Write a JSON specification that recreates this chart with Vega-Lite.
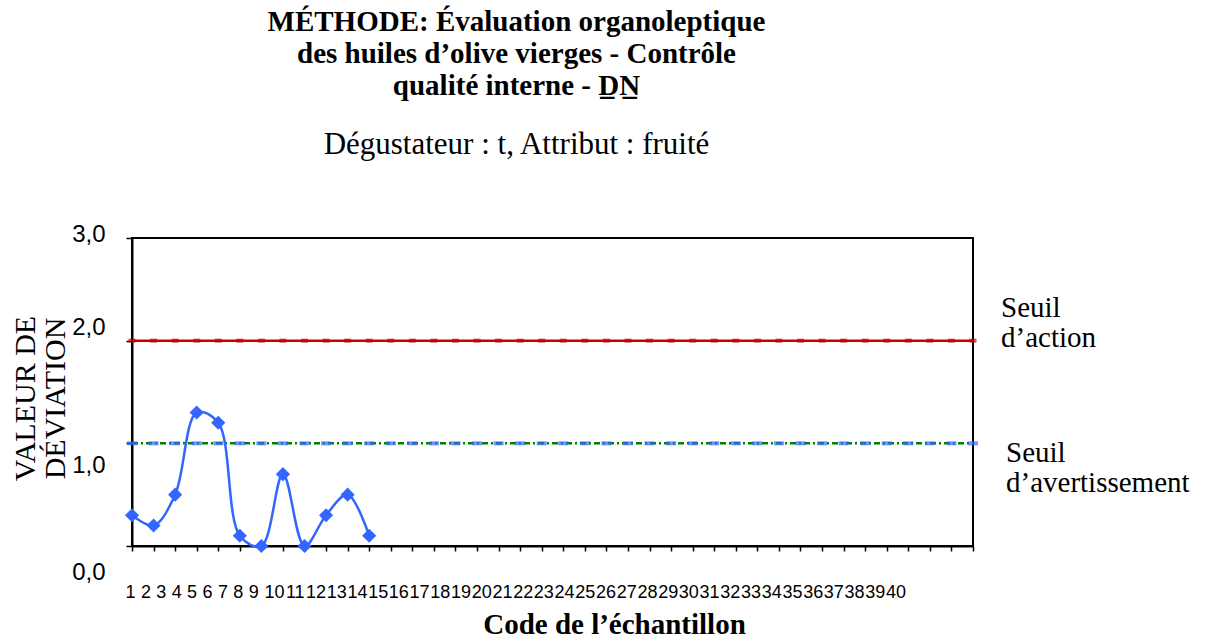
{
  "$schema": "https://vega.github.io/schema/vega-lite/v6.json",
  "width": 841,
  "height": 308,
  "autosize": {"type": "none"},
  "padding": {"left": 132, "top": 238, "right": 232, "bottom": 93},
  "background": "white",
  "title": {
    "text": ["MÉTHODE: Évaluation organoleptique", "des huiles d’olive vierges - Contrôle", "qualité interne - D̲N̲"],
    "subtitle": "Dégustateur : t, Attribut : fruité",
    "font": "Liberation Serif",
    "fontSize": 29,
    "fontWeight": "bold",
    "lineHeight": 32,
    "color": "black",
    "subtitleFont": "Liberation Serif",
    "subtitleFontSize": 31,
    "subtitleFontWeight": "normal",
    "subtitleColor": "black",
    "subtitlePadding": 29,
    "anchor": "middle",
    "frame": "group",
    "dx": -36,
    "offset": 62
  },
  "datasets": {
    "main": [
      {"code": 1, "dev": 0.3}, {"code": 2, "dev": 0.2}, {"code": 3, "dev": 0.5},
      {"code": 4, "dev": 1.3}, {"code": 5, "dev": 1.2}, {"code": 6, "dev": 0.1},
      {"code": 7, "dev": 0.0}, {"code": 8, "dev": 0.7}, {"code": 9, "dev": 0.0},
      {"code": 10, "dev": 0.3}, {"code": 11, "dev": 0.5}, {"code": 12, "dev": 0.1}
    ],
    "action": [
      {"code": 1, "v": 2}, {"code": 2, "v": 2}, {"code": 3, "v": 2}, {"code": 4, "v": 2}, {"code": 5, "v": 2},
      {"code": 6, "v": 2}, {"code": 7, "v": 2}, {"code": 8, "v": 2}, {"code": 9, "v": 2}, {"code": 10, "v": 2},
      {"code": 11, "v": 2}, {"code": 12, "v": 2}, {"code": 13, "v": 2}, {"code": 14, "v": 2}, {"code": 15, "v": 2},
      {"code": 16, "v": 2}, {"code": 17, "v": 2}, {"code": 18, "v": 2}, {"code": 19, "v": 2}, {"code": 20, "v": 2},
      {"code": 21, "v": 2}, {"code": 22, "v": 2}, {"code": 23, "v": 2}, {"code": 24, "v": 2}, {"code": 25, "v": 2},
      {"code": 26, "v": 2}, {"code": 27, "v": 2}, {"code": 28, "v": 2}, {"code": 29, "v": 2}, {"code": 30, "v": 2},
      {"code": 31, "v": 2}, {"code": 32, "v": 2}, {"code": 33, "v": 2}, {"code": 34, "v": 2}, {"code": 35, "v": 2},
      {"code": 36, "v": 2}, {"code": 37, "v": 2}, {"code": 38, "v": 2}, {"code": 39, "v": 2}, {"code": 40, "v": 2}
    ],
    "avert": [
      {"code": 1, "v": 1}, {"code": 2, "v": 1}, {"code": 3, "v": 1}, {"code": 4, "v": 1}, {"code": 5, "v": 1},
      {"code": 6, "v": 1}, {"code": 7, "v": 1}, {"code": 8, "v": 1}, {"code": 9, "v": 1}, {"code": 10, "v": 1},
      {"code": 11, "v": 1}, {"code": 12, "v": 1}, {"code": 13, "v": 1}, {"code": 14, "v": 1}, {"code": 15, "v": 1},
      {"code": 16, "v": 1}, {"code": 17, "v": 1}, {"code": 18, "v": 1}, {"code": 19, "v": 1}, {"code": 20, "v": 1},
      {"code": 21, "v": 1}, {"code": 22, "v": 1}, {"code": 23, "v": 1}, {"code": 24, "v": 1}, {"code": 25, "v": 1},
      {"code": 26, "v": 1}, {"code": 27, "v": 1}, {"code": 28, "v": 1}, {"code": 29, "v": 1}, {"code": 30, "v": 1},
      {"code": 31, "v": 1}, {"code": 32, "v": 1}, {"code": 33, "v": 1}, {"code": 34, "v": 1}, {"code": 35, "v": 1},
      {"code": 36, "v": 1}, {"code": 37, "v": 1}, {"code": 38, "v": 1}, {"code": 39, "v": 1}, {"code": 40, "v": 1}
    ],
    "labels": [
      {"seuil": "action", "code": 40, "v": 2, "lab": ["Seuil", "d’action"]},
      {"seuil": "avert", "code": 40, "v": 1, "lab": ["Seuil", "d’avertissement"]}
    ]
  },
  "encoding": {
    "x": {
      "field": "code", "type": "quantitative",
      "scale": {"domain": [1, 40], "nice": false, "zero": false},
      "axis": {
        "title": "Code de l’échantillon",
        "titleFont": "Liberation Serif", "titleFontSize": 29, "titleFontWeight": "bold", "titleColor": "black",
        "titleX": 482, "titleY": 87, "titleBaseline": "alphabetic", "titleAlign": "center",
        "values": [1,2,3,4,5,6,7,8,9,10,11,12,13,14,15,16,17,18,19,20,21,22,23,24,25,26,27,28,29,30,31,32,33,34,35,36,37,38,39,40],
        "format": "d",
        "labelFont": "Liberation Sans", "labelFontSize": 18, "labelColor": "black",
        "labelAngle": 0, "labelOverlap": false, "labelFlush": false, "labelPadding": 32,
        "labelOffset": {"expr": "datum.value <= 9 ? -2 - (datum.value - 1) * 6.16 : -52 - 0.85 * (datum.value - 10)"},
        "tickSize": 5, "tickColor": "black", "tickWidth": 1.5,
        "domainColor": "black", "domainWidth": 2, "grid": false
      }
    },
    "y": {
      "field": "v", "type": "quantitative",
      "scale": {"domain": [0, 3], "nice": false},
      "axis": {
        "title": ["VALEUR DE", "DÉVIATION"],
        "titleFont": "Liberation Serif", "titleFontSize": 30, "titleFontWeight": "normal", "titleColor": "black",
        "titleAngle": -90, "titleX": -98, "titleY": 160, "titleAlign": "center", "titleBaseline": "alphabetic", "titleLineHeight": 30,
        "values": [0, 1, 2, 3],
        "labelExpr": "replace(format(datum.value, '.1f'), '.', ',')",
        "labelFont": "Liberation Sans", "labelFontSize": 24, "labelColor": "black", "labelPadding": 21,
        "labelOffset": {"expr": "datum.value == 3 ? -4 : datum.value == 2 ? -13 : datum.value == 1 ? 22 : 26"},
        "tickSize": 6, "tickColor": "black", "tickWidth": 1.5,
        "domainColor": "black", "domainWidth": 2, "grid": false
      }
    }
  },
  "layer": [
    {"data": {"name": "action"}, "mark": {"type": "line", "color": "#CC0000", "strokeWidth": 2.5}},
    {"data": {"name": "action"}, "mark": {"type": "tick", "orient": "horizontal", "color": "#C00000", "size": 7, "thickness": 4}},
    {"data": {"name": "avert"}, "mark": {"type": "line", "color": "#008000", "strokeWidth": 2.5, "strokeDash": [6, 3, 2, 3]}},
    {"data": {"name": "avert"}, "mark": {"type": "tick", "orient": "horizontal", "color": "#3366FF", "size": 10, "thickness": 4}},
    {"data": {"name": "main"}, "mark": {"type": "line", "color": "#3366FF", "strokeWidth": 2.5, "interpolate": "catmull-rom"},
     "encoding": {"y": {"field": "dev", "type": "quantitative"}}},
    {"data": {"name": "main"}, "mark": {"type": "point", "shape": "diamond", "filled": true, "color": "#3366FF", "size": 200, "opacity": 1},
     "encoding": {"y": {"field": "dev", "type": "quantitative"}}},
    {"data": {"name": "labels"}, "transform": [{"filter": "datum.seuil == 'action'"}],
     "mark": {"type": "text", "font": "Liberation Serif", "fontSize": 29, "color": "black", "align": "left", "baseline": "alphabetic", "lineHeight": 30, "dx": 28, "dy": -24},
     "encoding": {"text": {"field": "lab"}}},
    {"data": {"name": "labels"}, "transform": [{"filter": "datum.seuil == 'avert'"}],
     "mark": {"type": "text", "font": "Liberation Serif", "fontSize": 29, "color": "black", "align": "left", "baseline": "alphabetic", "lineHeight": 30, "dx": 33, "dy": 19},
     "encoding": {"text": {"field": "lab"}}}
  ],
  "config": {
    "view": {"stroke": "black", "strokeWidth": 2}
  }
}
